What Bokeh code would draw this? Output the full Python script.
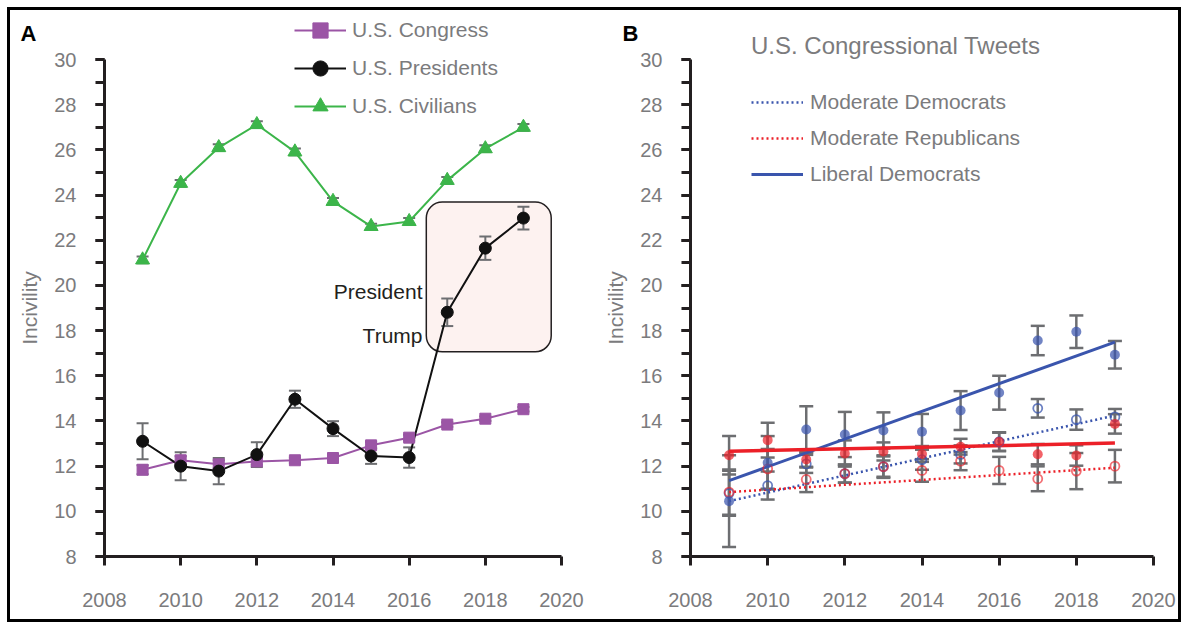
from bokeh.plotting import figure
from bokeh.models import (ColumnDataSource, Range1d, SingleIntervalTicker, Whisker, TeeHead,
                          Legend, LegendItem, Label, BoxAnnotation)
from bokeh.layouts import row
from bokeh.embed import file_html
from bokeh.resources import INLINE

# ---------------- data ----------------
years = [2009, 2010, 2011, 2012, 2013, 2014, 2015, 2016, 2017, 2018, 2019]

# Panel A
congress = [11.84, 12.26, 12.08, 12.21, 12.26, 12.36, 12.92, 13.26, 13.84, 14.10, 14.52]
congress_err = [0.20, 0.18, 0.18, 0.15, 0.12, 0.12, 0.15, 0.13, 0.10, 0.10, 0.10]
presidents = [13.10, 12.00, 11.78, 12.51, 14.96, 13.66, 12.45, 12.38, 18.81, 21.65, 22.98]
presidents_err = [0.80, 0.62, 0.58, 0.55, 0.38, 0.33, 0.35, 0.45, 0.61, 0.52, 0.50]
civilians = [21.13, 24.52, 26.10, 27.12, 25.91, 23.72, 22.61, 22.83, 24.65, 26.05, 27.00]
civilians_err = [0.15, 0.15, 0.15, 0.15, 0.15, 0.15, 0.12, 0.15, 0.15, 0.15, 0.15]

# Panel B
lib_dem = [10.45, 12.15, 13.62, 13.40, 13.58, 13.52, 14.46, 15.25, 17.56, 17.95, 16.93]
lib_dem_err = [2.03, 1.18, 1.03, 1.00, 0.80, 0.79, 0.86, 0.75, 0.65, 0.72, 0.61]
con_rep = [12.48, 13.15, 12.29, 12.56, 12.65, 12.54, 12.86, 13.08, 12.53, 12.47, 13.87]
con_rep_err = [0.85, 0.77, 0.35, 0.58, 0.40, 0.35, 0.35, 0.42, 0.45, 0.45, 0.43]
mod_dem = [10.80, 11.14, 12.10, 11.67, 11.98, 12.29, 12.52, 13.08, 14.56, 14.06, 14.18]
mod_dem_err = [1.00, 0.62, 0.40, 0.40, 0.45, 0.45, 0.40, 0.40, 0.41, 0.45, 0.35]
mod_rep = [10.85, 11.88, 11.41, 11.67, 11.98, 11.81, 12.22, 11.81, 11.44, 11.78, 12.00]
mod_rep_err = [1.00, 0.88, 0.56, 0.40, 0.50, 0.50, 0.40, 0.60, 0.55, 0.80, 0.72]

trend_years = [2009, 2019]
lib_dem_trend = [11.36, 17.49]
con_rep_trend = [12.66, 13.02]
mod_dem_trend = [10.45, 14.24]
mod_rep_trend = [10.85, 11.93]

# axis extents shown
X_BOUNDS = (2008, 2020)
Y_BOUNDS = (8, 30)

# ---------------- styles ----------------
FONT = "Liberation Sans"
GREY = "#7b7b7d"
AXIS = "#231f20"
ERR = "#6d6e71"
PURPLE = "#9b55a5"
BLACK = "#111111"
GREEN = "#3cb54a"
BLUE = "#3a55ad"
RED = "#ec2028"

FIG_H = 609
PX_PER_Y = 497 / 22.0
Y_TOP = 30 + 49 / PX_PER_Y
Y_BOT = 8 - 63 / PX_PER_Y


def make_fig(width, left_px, plot_px):
    px_per_x = plot_px / 12.0
    x0 = 2008 - left_px / px_per_x
    x1 = 2020 + (width - left_px - plot_px) / px_per_x
    p = figure(width=width, height=FIG_H, x_range=Range1d(x0, x1), y_range=Range1d(Y_BOT, Y_TOP),
               output_backend="svg", toolbar_location=None,
               min_border=0, min_border_left=0, min_border_right=0,
               min_border_top=0, min_border_bottom=0)
    p.grid.visible = False
    p.outline_line_color = None
    p.background_fill_color = "white"
    p.border_fill_color = "white"
    p.xaxis.ticker = SingleIntervalTicker(interval=2, num_minor_ticks=0)
    p.yaxis.ticker = SingleIntervalTicker(interval=2, num_minor_ticks=2)
    p.xaxis.bounds = X_BOUNDS
    p.yaxis.bounds = Y_BOUNDS
    p.xaxis.fixed_location = Y_BOUNDS[0]
    p.yaxis.fixed_location = X_BOUNDS[0]
    for ax in [p.xaxis[0], p.yaxis[0]]:
        ax.axis_line_width = 3
        ax.axis_line_color = AXIS
        ax.major_tick_line_width = 3
        ax.major_tick_line_color = AXIS
        ax.major_tick_out = 9
        ax.major_tick_in = 0
        ax.minor_tick_line_width = 3
        ax.minor_tick_line_color = AXIS
        ax.minor_tick_out = 9
        ax.minor_tick_in = 0
        ax.major_label_text_font = FONT
        ax.major_label_text_font_size = "20px"
        ax.major_label_text_color = GREY
    p.xaxis[0].major_label_standoff = 27
    p.yaxis[0].major_label_standoff = 19
    p.yaxis[0].major_label_text_baseline = "top"
    p.yaxis[0].axis_label = "Incivility"
    p.yaxis[0].axis_label_text_font = FONT
    p.yaxis[0].axis_label_text_font_size = "21px"
    p.yaxis[0].axis_label_text_font_style = "normal"
    p.yaxis[0].axis_label_text_color = GREY
    p.yaxis[0].axis_label_standoff = 10
    return p, x0


def add_err(p, x, y, e, size, width):
    src = ColumnDataSource(dict(x=x, lo=[a - b for a, b in zip(y, e)], hi=[a + b for a, b in zip(y, e)]))
    w = Whisker(source=src, base="x", lower="lo", upper="hi", dimension="height",
                line_color=ERR, line_width=width, level="underlay",
                upper_head=TeeHead(size=size, line_color=ERR, line_width=width),
                lower_head=TeeHead(size=size, line_color=ERR, line_width=width))
    p.add_layout(w)


def panel_letter(p, x0, px_per_x, text, px, py):
    p.add_layout(Label(x=x0 + px / px_per_x, y=Y_TOP - py / PX_PER_Y, text=text,
                       text_align="center", text_baseline="middle", text_font=FONT,
                       text_font_size="22px", text_font_style="bold", text_color="black"))


# ---------------- Panel A ----------------
pA, xA0 = make_fig(580, 94, 457)

box = BoxAnnotation(left=2016.45, right=2019.73, bottom=17.06, top=23.69,
                    fill_color="#fdf2f0", fill_alpha=1.0, line_color=AXIS, line_alpha=1.0,
                    line_width=1.5, border_radius=16, level="underlay")
pA.add_layout(box)

add_err(pA, years, congress, congress_err, 12, 2)
add_err(pA, years, presidents, presidents_err, 12, 2)
add_err(pA, years, civilians, civilians_err, 12, 2)

l_con = pA.line(years, congress, line_color=PURPLE, line_width=2)
l_pre = pA.line(years, presidents, line_color=BLACK, line_width=2)
l_civ = pA.line(years, civilians, line_color=GREEN, line_width=2)
s_con = pA.scatter(years, congress, marker="square", size=11, color=PURPLE)
s_pre = pA.scatter(years, presidents, marker="circle", size=12, color=BLACK)
s_civ = pA.scatter(years, civilians, marker="triangle", size=14, color=GREEN)

pA.add_layout(Label(x=2016.35, y=19.72, text="President", text_align="right", text_baseline="middle",
                    text_font=FONT, text_font_size="21px", text_color=AXIS))
pA.add_layout(Label(x=2016.35, y=17.80, text="Trump", text_align="right", text_baseline="middle",
                    text_font=FONT, text_font_size="21px", text_color=AXIS))

legA = Legend(items=[LegendItem(label="U.S. Congress", renderers=[l_con, s_con]),
                     LegendItem(label="U.S. Presidents", renderers=[l_pre, s_pre]),
                     LegendItem(label="U.S. Civilians", renderers=[l_civ, s_civ])],
              location=(284, 494), glyph_width=52, glyph_height=38, label_height=20,
              label_standoff=6, spacing=0, padding=0, margin=0,
              label_text_font=FONT, label_text_font_size="21px", label_text_color=GREY,
              background_fill_alpha=0, border_line_color=None)
pA.add_layout(legA)
panel_letter(pA, xA0, 457 / 12.0, "A", 18, 23)

# ---------------- Panel B ----------------
pB, xB0 = make_fig(588, 100, 463)

add_err(pB, years, lib_dem, lib_dem_err, 14, 2.5)
add_err(pB, years, con_rep, con_rep_err, 14, 2.5)
add_err(pB, years, mod_dem, mod_dem_err, 14, 2.5)
add_err(pB, years, mod_rep, mod_rep_err, 14, 2.5)

t_md = pB.line(trend_years, mod_dem_trend, line_color=BLUE, line_width=2.5, line_dash="2 3")
t_mr = pB.line(trend_years, mod_rep_trend, line_color=RED, line_width=2.5, line_dash="2 3")
t_ld = pB.line(trend_years, lib_dem_trend, line_color=BLUE, line_width=3)
t_cr = pB.line(trend_years, con_rep_trend, line_color=RED, line_width=3.5)

pB.scatter(years, mod_dem, marker="circle", size=9, fill_color=None, line_color=BLUE,
           line_width=1.8, line_alpha=0.75)
pB.scatter(years, mod_rep, marker="circle", size=9, fill_color=None, line_color=RED,
           line_width=1.8, line_alpha=0.65)
pB.scatter(years, lib_dem, marker="circle", size=10, fill_color=BLUE, fill_alpha=0.72, line_color=None)
pB.scatter(years, con_rep, marker="circle", size=10, fill_color=RED, fill_alpha=0.7, line_color=None)

legB = Legend(items=[LegendItem(label="Moderate Democrats", renderers=[t_md]),
                     LegendItem(label="Moderate Republicans", renderers=[t_mr]),
                     LegendItem(label="Liberal Democrats", renderers=[t_ld])],
              location=(161, 427), glyph_width=52, glyph_height=36, label_height=20,
              label_standoff=7, spacing=0, padding=0, margin=0,
              title="U.S. Congressional Tweets", title_text_font=FONT, title_text_font_size="24px",
              title_text_font_style="normal", title_text_color=GREY, title_standoff=24,
              label_text_font=FONT, label_text_font_size="21px", label_text_color=GREY,
              background_fill_alpha=0, border_line_color=None)
pB.add_layout(legB)
panel_letter(pB, xB0, 463 / 12.0, "B", 40, 23)

layout = row(pA, pB)
layout.styles = {"border": "3px solid #000000", "margin": "7px 0px 0px 7px"}

open("out.html", "w").write(file_html(layout, INLINE))
